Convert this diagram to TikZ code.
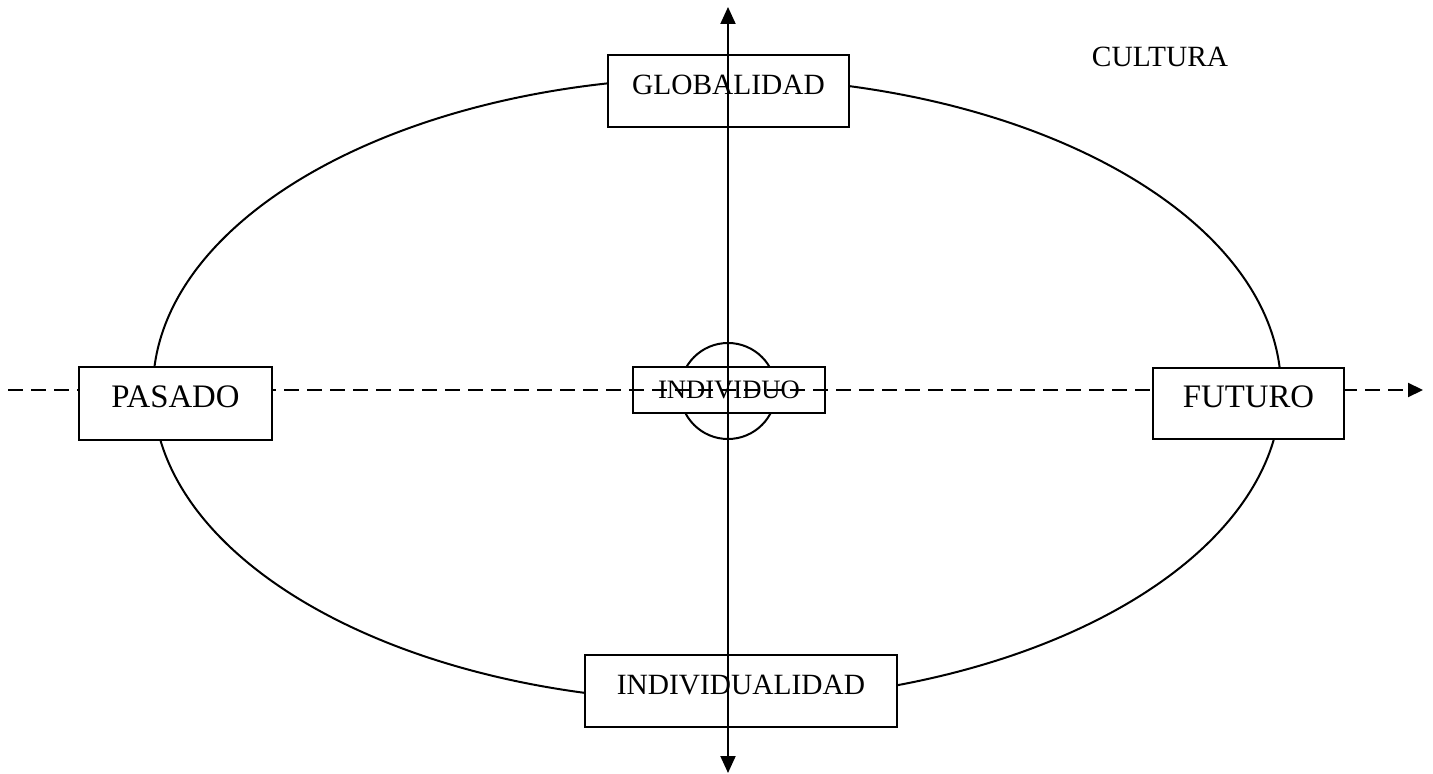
\documentclass[tikz,border=0pt]{standalone}
\usepackage{fontspec}
\setmainfont{Liberation Serif}
\usetikzlibrary{arrows.meta}

\tikzset{
    labelbox/.style={draw, fill=white, inner sep=0pt, text height=10pt, text depth=6.5pt,
        font=\fontsize{14.7}{17}\selectfont},
    bigbox/.style={labelbox, text depth=5.5pt, font=\fontsize{16.4}{19}\selectfont},
    tip/.style={-{Triangle[length=8.5pt,width=7.5pt]}}
}

\begin{document}
\begin{tikzpicture}[x=0.5pt,y=-0.5pt,line width=1pt]
    \useasboundingbox (0,0) rectangle (1433,774);
    %Ellipse
    \draw (717,389.5) ellipse [x radius=282pt, y radius=156pt];
    %Centre
    \node (circ) [draw, circle, minimum size=48pt, inner sep=0pt] at (728,391) {};
    \node (indiv) [draw, fill=white, inner sep=0pt, minimum width=96pt, minimum height=23pt,
        text height=8.6pt, text depth=0pt, font=\fontsize{13.3}{15}\selectfont] at (729,390) {INDIVIDUO};
    %Time axis
    \coordinate (west) at (8,390);
    \coordinate (east) at (1423,390);
    \draw[dash pattern=on 7.5pt off 4pt,-{Triangle[length=7.5pt,width=7pt]}] (west) -- (east);
    \node (past) [bigbox, minimum width=96.5pt, minimum height=36.5pt] at (175.5,403.5) {PASADO};
    \node (fut) [bigbox, minimum width=95.5pt, minimum height=35.5pt] at (1248.5,403.5) {FUTURO};
    %Culture axis
    \node (glob) [labelbox, minimum width=120.5pt, minimum height=36pt] at (728.5,91) {GLOBALIDAD};
    \node (indvd) [labelbox, minimum width=156pt, minimum height=36pt] at (741,691) {INDIVIDUALIDAD};
    \coordinate (north) at (728,7);
    \coordinate (south) at (728,773);
    \draw[tip] (circ.center) -- (north);
    \draw[tip] (circ.center) -- (south);
    %Title
    \node (cult) [anchor=base, inner sep=0pt, font=\fontsize{14.7}{17}\selectfont] at (1160,67) {CULTURA};
\end{tikzpicture}
\end{document}
